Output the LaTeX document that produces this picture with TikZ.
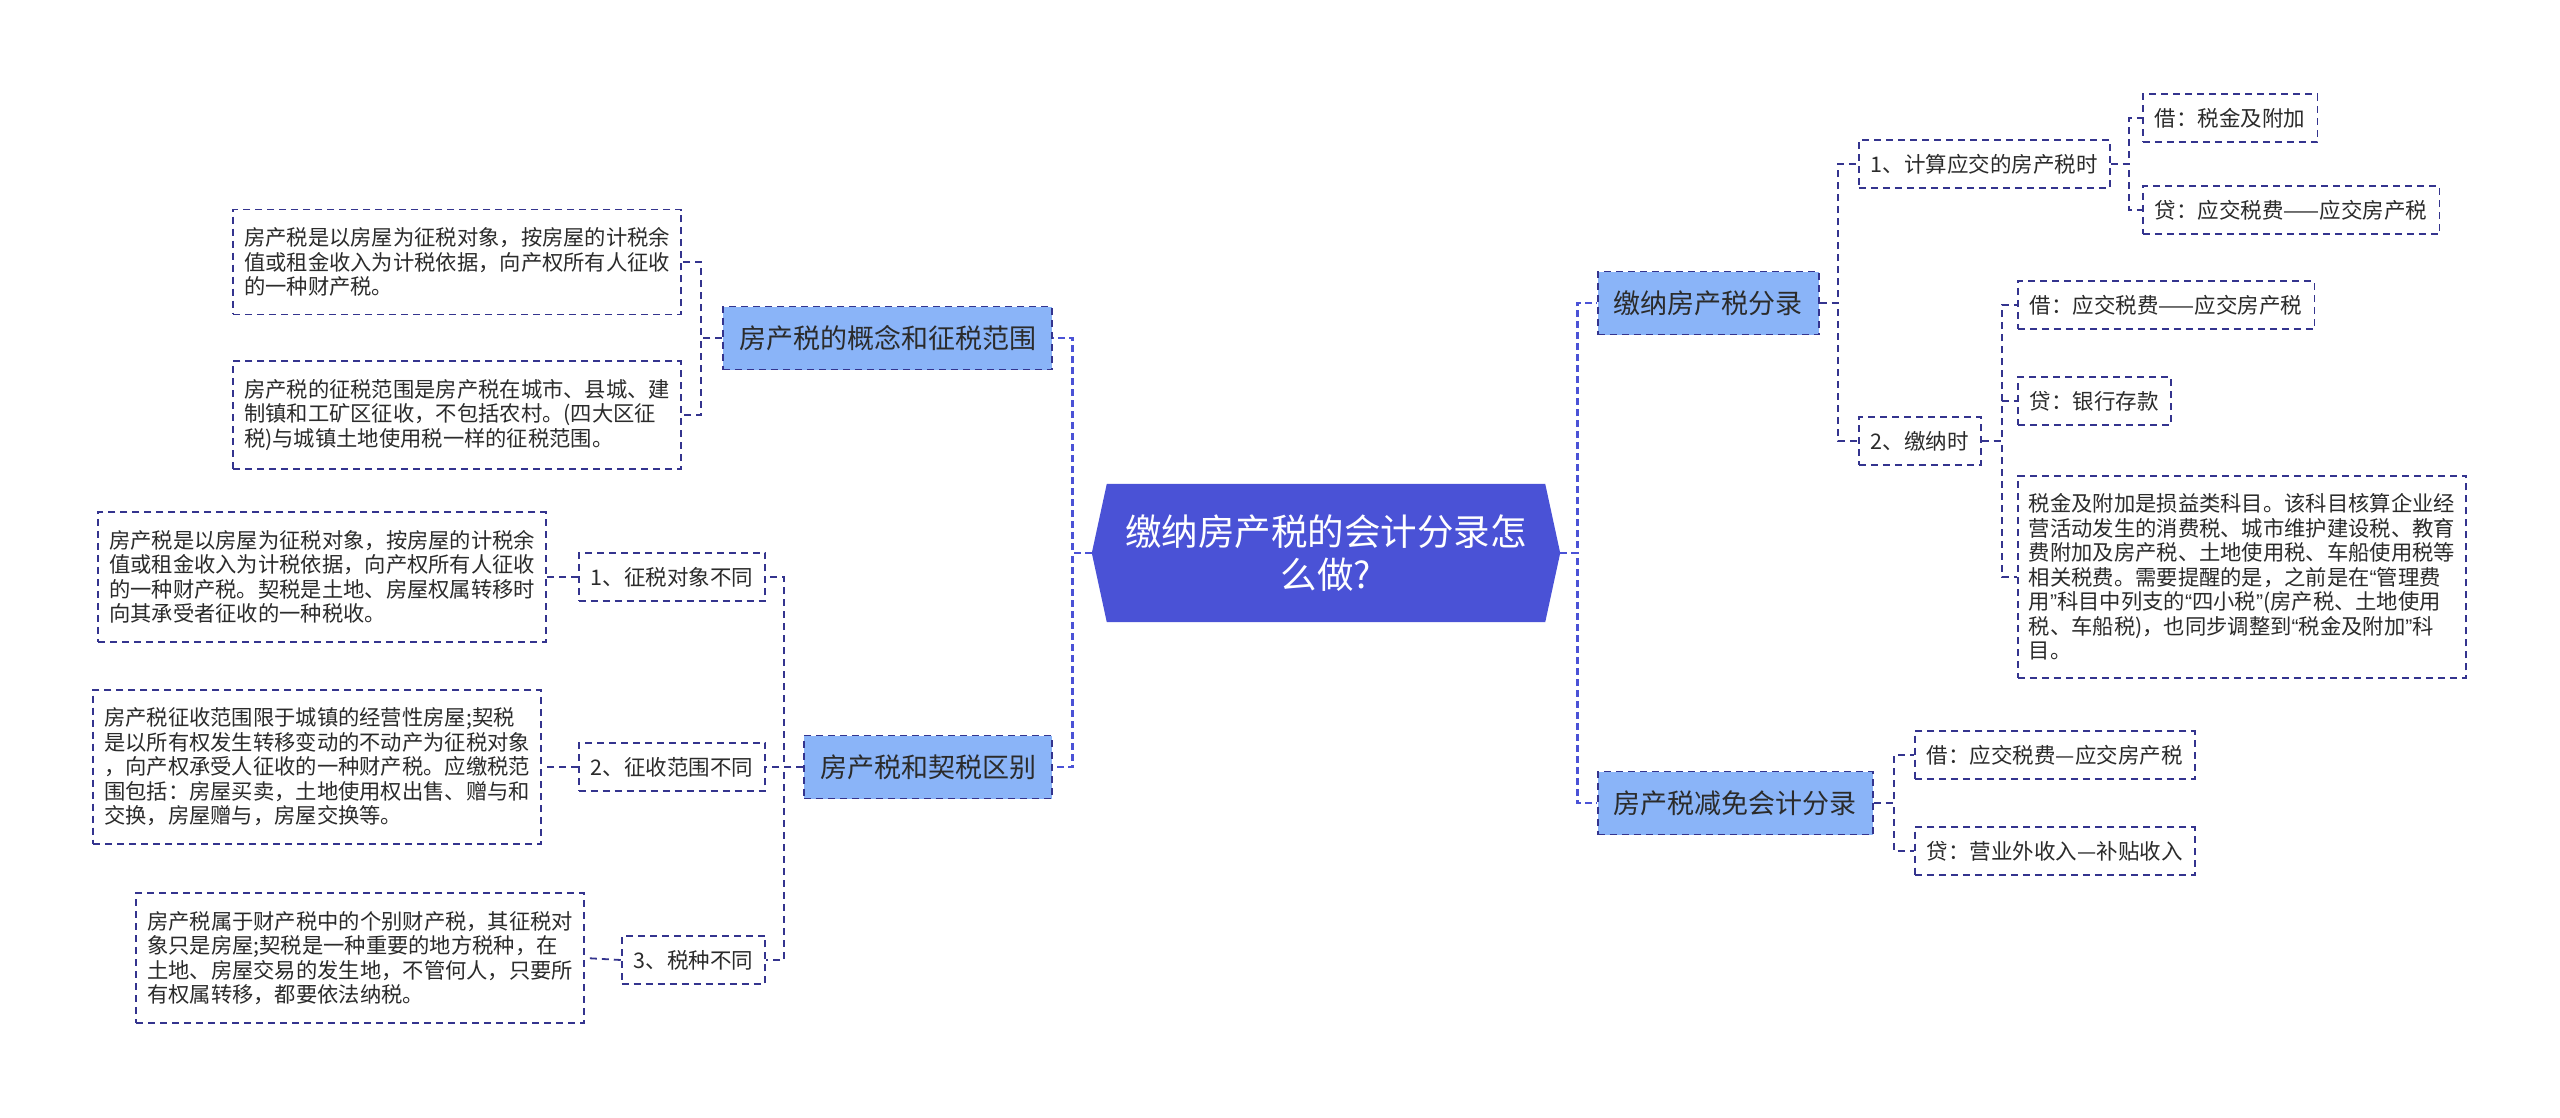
\documentclass[tikz,border=0pt]{standalone}
\usepackage{fontspec}
\setmainfont{Noto Sans CJK SC}
\newfontfamily\quotefont{Liberation Sans}
\newcommand\oq{{\quotefont “}}
\newcommand\cq{{\quotefont ”}}
\usetikzlibrary{calc, backgrounds}

\definecolor{rootblue}{HTML}{4A52D6}
\definecolor{topicblue}{HTML}{8AB4F8}
\definecolor{navy}{HTML}{34348E}
\definecolor{inkgray}{HTML}{2B2B2B}

\tikzset{
  box/.style={draw=navy, line width=1.8pt, dash pattern=on 7pt off 5pt, text=inkgray},
  topic/.style={box, fill=topicblue, font=\fontsize{27pt}{32pt}\selectfont, inner xsep=16pt, minimum height=63pt},
  sub/.style={box, fill=white, font=\fontsize{21.5pt}{25pt}\selectfont, inner xsep=12pt, minimum height=48pt},
  desc/.style={box, fill=white, font=\fontsize{21.3pt}{24.5pt}\selectfont, align=left, inner xsep=11pt, inner ysep=18pt},
  link/.style={draw=navy, line width=1.8pt, dash pattern=on 7pt off 5pt},
  rootlink/.style={draw=rootblue, line width=2.8pt, dash pattern=on 7pt off 4pt},
}

\begin{document}
\begin{tikzpicture}[x=1pt, y=-1pt]
  \useasboundingbox (0,0) rectangle (2560,1117);

  % centre
  \node[text=white, font=\fontsize{36.5pt}{43pt}\selectfont, align=center, minimum width=438pt, minimum height=138pt] (root) at (1326,553) {缴纳房产税的会计分录怎\\么做?};
  \begin{scope}[on background layer]
    \fill[white] (0,0) rectangle (2560,1117);
    \fill[rootblue] (root.north west) -- (root.north east) -- ($(root.east)+(15,0)$) -- (root.south east) -- (root.south west) -- ($(root.west)+(-15,0)$) -- cycle;
  \end{scope}
  \coordinate (rootL) at ($(root.west)+(-15,0)$);
  \coordinate (rootR) at ($(root.east)+(15,0)$);

  % left side
  \node[topic, anchor=east] (concept) at (1053,338) {房产税的概念和征税范围};
  \node[topic, anchor=east] (diff) at (1053,767) {房产税和契税区别};

  \node[desc, anchor=east] (cdesc1) at (682,262) {房产税是以房屋为征税对象，按房屋的计税余\\值或租金收入为计税依据，向产权所有人征收\\的一种财产税。};
  \node[desc, anchor=east] (cdesc2) at (682,415) {房产税的征税范围是房产税在城市、县城、建\\制镇和工矿区征收，不包括农村。(四大区征\\税)与城镇土地使用税一样的征税范围。};

  \node[sub, anchor=east] (d1) at (766,577) {1、征税对象不同};
  \node[sub, anchor=east] (d2) at (766,767) {2、征收范围不同};
  \node[sub, anchor=east] (d3) at (766,960) {3、税种不同};

  \node[desc, anchor=east] (ddesc1) at (547,577) {房产税是以房屋为征税对象，按房屋的计税余\\值或租金收入为计税依据，向产权所有人征收\\的一种财产税。契税是土地、房屋权属转移时\\向其承受者征收的一种税收。};
  \node[desc, anchor=east] (ddesc2) at (542,767) {房产税征收范围限于城镇的经营性房屋;契税\\是以所有权发生转移变动的不动产为征税对象\\，向产权承受人征收的一种财产税。应缴税范\\围包括：房屋买卖，土地使用权出售、赠与和\\交换，房屋赠与，房屋交换等。};
  \node[desc, anchor=east] (ddesc3) at (585,958) {房产税属于财产税中的个别财产税，其征税对\\象只是房屋;契税是一种重要的地方税种，在\\土地、房屋交易的发生地，不管何人，只要所\\有权属转移，都要依法纳税。};

  % right side
  \node[topic, anchor=west] (pay) at (1597,303) {缴纳房产税分录};
  \node[topic, anchor=west] (relief) at (1597,803) {房产税减免会计分录};

  \node[sub, anchor=west] (p1) at (1858,164) {1、计算应交的房产税时};
  \node[sub, anchor=west] (p2) at (1858,441) {2、缴纳时};

  \node[sub, anchor=west] (p1a) at (2142,118) {借：税金及附加};
  \node[sub, anchor=west] (p1b) at (2142,210) {贷：应交税费——应交房产税};

  \node[sub, anchor=west] (p2a) at (2017,305) {借：应交税费——应交房产税};
  \node[sub, anchor=west] (p2b) at (2017,401) {贷：银行存款};
  \node[desc, anchor=west] (p2c) at (2017,577) {税金及附加是损益类科目。该科目核算企业经\\营活动发生的消费税、城市维护建设税、教育\\费附加及房产税、土地使用税、车船使用税等\\相关税费。需要提醒的是，之前是在\oq 管理费\\用\cq 科目中列支的\oq 四小税\cq(房产税、土地使用\\税、车船税)，也同步调整到\oq 税金及附加\cq 科\\目。};

  \node[sub, anchor=west] (r1) at (1914,755) {借：应交税费—应交房产税};
  \node[sub, anchor=west] (r2) at (1914,851) {贷：营业外收入—补贴收入};

  % connectors
  \draw[rootlink] (rootL) -- ++(-19,0) |- (concept.east);
  \draw[rootlink] (rootL) -- ++(-19,0) |- (diff.east);
  \draw[rootlink] (rootR) -- ++(17,0) |- (pay.west);
  \draw[rootlink] (rootR) -- ++(17,0) |- (relief.west);

  \draw[link] (concept.west) -- ++(-21,0) |- (cdesc1.east);
  \draw[link] (concept.west) -- ++(-21,0) |- (cdesc2.east);

  \draw[link] (diff.west) -- ++(-19,0) |- (d1.east);
  \draw[link] (diff.west) -- ++(-19,0) |- (d2.east);
  \draw[link] (diff.west) -- ++(-19,0) |- (d3.east);
  \draw[link] (d1.west) -- (ddesc1.east);
  \draw[link] (d2.west) -- (ddesc2.east);
  \draw[link] (d3.west) -- (ddesc3.east);

  \draw[link] (pay.east) -- ++(18,0) |- (p1.west);
  \draw[link] (pay.east) -- ++(18,0) |- (p2.west);
  \draw[link] (p1.east) -- ++(18,0) |- (p1a.west);
  \draw[link] (p1.east) -- ++(18,0) |- (p1b.west);
  \draw[link] (p2.east) -- ++(20,0) |- (p2a.west);
  \draw[link] (p2.east) -- ++(20,0) |- (p2b.west);
  \draw[link] (p2.east) -- ++(20,0) |- (p2c.west);

  \draw[link] (relief.east) -- ++(20,0) |- (r1.west);
  \draw[link] (relief.east) -- ++(20,0) |- (r2.west);
\end{tikzpicture}
\end{document}
